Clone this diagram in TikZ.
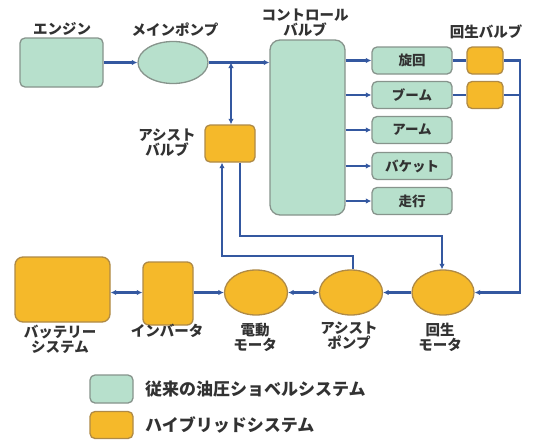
\documentclass[tikz,border=0pt]{standalone}
\usepackage{fontspec}
\newfontfamily\jp{Noto Sans CJK JP}
\usetikzlibrary{shapes.geometric,arrows.meta}
\definecolor{gfill}{RGB}{183,224,204}
\definecolor{gborder}{RGB}{135,148,140}
\definecolor{ofill}{RGB}{245,185,42}
\definecolor{oborder}{RGB}{175,138,70}
\definecolor{lblue}{RGB}{52,88,160}
\definecolor{txt}{RGB}{50,50,50}
\begin{document}
\begin{tikzpicture}[x=1pt,y=-1pt,
  gbox/.style={draw=gborder, fill=gfill, line width=1.3pt, rounded corners=5pt, inner sep=0pt},
  obox/.style={draw=oborder, fill=ofill, line width=1.3pt, rounded corners=5pt, inner sep=0pt},
  oell/.style={ellipse, draw=oborder, fill=ofill, line width=1.3pt, inner sep=0pt},
  gell/.style={ellipse, draw=gborder, fill=gfill, line width=1.3pt, inner sep=0pt},
  link/.style={draw=lblue, line width=2.1pt},
  tip/.tip={Latex[length=5.5pt,width=5.5pt]},
  arr/.style={link, -tip},
  darr/.style={link, tip-tip},
  lbl/.style={text=txt, align=center, inner sep=0pt, font=\jp\bfseries\fontsize{14.5}{15}\selectfont},
  btxt/.style={text=txt, font=\jp\bfseries\fontsize{13.5}{15}\selectfont},
  legtxt/.style={text=txt, anchor=west, inner sep=0pt, font=\jp\bfseries\fontsize{17}{18}\selectfont}
]
\useasboundingbox[fill=white] (0,0) rectangle (534,439);

% upper row
\node[gbox, minimum width=83pt, minimum height=49pt] (eng) at (61.5,62.5) {};
\node[gell, minimum width=70pt, minimum height=42pt] (pump) at (173,62.5) {};
\node[gbox, rounded corners=10pt, minimum width=75pt, minimum height=175pt] (cv) at (307.5,127.5) {};

\node[gbox, minimum width=80pt, minimum height=27pt, btxt] (b1) at (412,60.5) {旋回};
\node[gbox, minimum width=80pt, minimum height=27pt, btxt] (b2) at (412,95) {ブーム};
\node[gbox, minimum width=80pt, minimum height=27pt, btxt] (b3) at (412,130) {アーム};
\node[gbox, minimum width=80pt, minimum height=27pt, btxt] (b4) at (412,166) {バケット};
\node[gbox, minimum width=80pt, minimum height=27pt, btxt] (b5) at (412,201) {走行};

\node[obox, minimum width=36pt, minimum height=27pt] (r1) at (485,60.5) {};
\node[obox, minimum width=36pt, minimum height=27pt] (r2) at (485,95) {};

\node[obox, minimum width=50pt, minimum height=37pt] (av) at (230,143.5) {};

% lower row
\node[obox, rounded corners=8pt, minimum width=95pt, minimum height=65pt] (bat) at (62.5,289.5) {};
\node[obox, rounded corners=6pt, minimum width=50pt, minimum height=63pt] (inv) at (168,293.5) {};
\node[oell, minimum width=63pt, minimum height=45pt] (em) at (256,292.5) {};
\node[oell, minimum width=63pt, minimum height=45pt] (ap) at (351,292.5) {};
\node[oell, minimum width=62pt, minimum height=45pt] (rm) at (443,292.5) {};

% labels
\node[lbl] (leng) at (62,29) {エンジン};
\node[lbl] (lpump) at (175,30) {メインポンプ};
\node[lbl, text width=100pt] (lcv) at (305,23) {コントロール\\バルブ};
\node[lbl] (lrv) at (486,32) {回生バルブ};
\node[lbl] (lav) at (167,143) {アシスト\\バルブ};
\node[lbl] (lbat) at (60,339) {バッテリー\\システム};
\node[lbl] (linv) at (167,331) {インバータ};
\node[lbl] (lem) at (255,337) {電動\\モータ};
\node[lbl] (lap) at (349,336) {アシスト\\ポンプ};
\node[lbl] (lrm) at (440,337) {回生\\モータ};

% legend
\node[gbox, minimum width=43pt, minimum height=28pt] (lg1) at (111.5,389) {};
\node[obox, minimum width=43pt, minimum height=27pt] (lg2) at (111.5,425) {};
\node[legtxt] (lt1) at (145,389) {従来の油圧ショベルシステム};
\node[legtxt] (lt2) at (145,425) {ハイブリッドシステム};

% connectors upper
\draw[arr] (eng.east) -- (pump.west);
\draw[arr] (pump.east) -- (pump.east -| cv.west);
\coordinate (j1) at (231,62.5);
\draw[darr] (j1) -- (j1 |- av.north);
\foreach \b in {b1,b2,b3,b4,b5} {
  \draw[arr] (cv.east |- \b.west) -- (\b.west);
}
\draw[link] (b1.east) -- (r1.west);
\draw[link] (b2.east) -- (r2.west);
\coordinate (rc) at (520,60.5);
\draw[arr] (r1.east) -- (rc) |- (rm.east);
\draw[link] (r2.east) -- (r2.east -| rc);

% assist valve lines
\coordinate (k1) at (222,256);
\coordinate (k2) at (353,256);
\draw[link, tip-] ([xshift=-8pt]av.south) -- (k1) -- (k2) -- (k2 |- ap.north);
\coordinate (m1) at (240,236);
\coordinate (m2) at (442,236);
\draw[arr] ([xshift=10pt]av.south) -- (m1) -- (m2) -- (m2 |- rm.north);

% connectors lower
\draw[darr] (bat.east |- em.west) -- (inv.west |- em.west);
\draw[arr] (inv.east |- em.west) -- (em.west);
\draw[darr] (em.east) -- (ap.west);
\draw[arr] (rm.west) -- (ap.east);
\end{tikzpicture}
\end{document}
